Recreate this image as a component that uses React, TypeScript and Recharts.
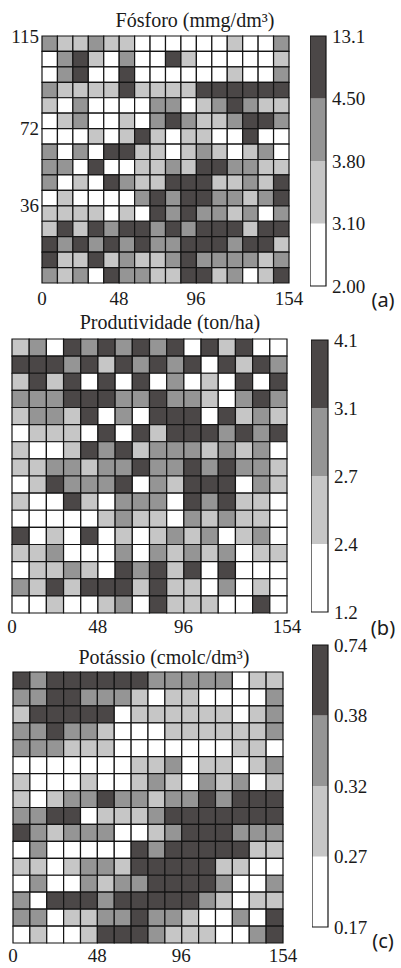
import React from 'react';
import { ScatterChart, Scatter, XAxis, YAxis, ReferenceArea } from 'recharts';

// class index per cell, top row of the field first (0 = lowest class ... 3 = highest)
const fosforoGrid = [
  [2, 1, 1, 2, 1, 1, 0, 0, 0, 0, 0, 0, 1, 0, 0, 2],
  [0, 2, 3, 1, 0, 2, 0, 0, 3, 1, 0, 0, 0, 0, 0, 1],
  [0, 2, 3, 0, 0, 3, 0, 0, 0, 0, 0, 0, 1, 0, 0, 2],
  [2, 1, 1, 1, 1, 3, 1, 1, 1, 1, 3, 3, 3, 3, 3, 3],
  [1, 0, 2, 0, 0, 0, 0, 2, 2, 0, 1, 2, 3, 2, 1, 1],
  [0, 1, 2, 0, 0, 1, 0, 2, 3, 2, 1, 1, 2, 3, 3, 2],
  [0, 0, 0, 1, 0, 1, 3, 1, 0, 1, 1, 0, 0, 3, 0, 0],
  [2, 0, 2, 0, 3, 3, 1, 1, 0, 1, 2, 1, 0, 1, 2, 0],
  [2, 2, 0, 3, 0, 0, 1, 1, 2, 1, 3, 3, 2, 2, 1, 1],
  [2, 0, 1, 0, 3, 2, 1, 1, 3, 3, 3, 1, 1, 2, 1, 3],
  [0, 1, 0, 0, 0, 0, 2, 3, 2, 3, 3, 2, 2, 1, 2, 3],
  [1, 1, 1, 1, 0, 1, 0, 3, 2, 3, 2, 2, 1, 2, 0, 2],
  [1, 3, 1, 3, 2, 3, 3, 2, 3, 2, 3, 3, 3, 1, 3, 3],
  [3, 2, 3, 2, 3, 2, 3, 2, 2, 3, 3, 3, 2, 3, 3, 1],
  [3, 1, 1, 3, 1, 2, 1, 1, 2, 3, 2, 2, 2, 2, 1, 2],
  [2, 1, 2, 0, 3, 2, 2, 1, 1, 3, 3, 1, 2, 0, 1, 3],
];

const produtividadeGrid = [
  [1, 2, 0, 3, 2, 3, 2, 3, 2, 3, 0, 3, 1, 3, 0, 0],
  [3, 3, 3, 2, 3, 1, 3, 2, 3, 2, 3, 0, 3, 1, 3, 2],
  [1, 3, 1, 3, 0, 3, 0, 3, 0, 2, 0, 1, 0, 3, 0, 3],
  [2, 2, 2, 3, 3, 3, 2, 2, 3, 2, 2, 1, 0, 2, 3, 2],
  [1, 2, 2, 1, 3, 0, 2, 0, 3, 3, 3, 0, 3, 1, 2, 1],
  [0, 1, 1, 1, 0, 3, 0, 3, 1, 3, 3, 3, 2, 3, 2, 3],
  [1, 0, 0, 1, 3, 2, 3, 1, 2, 2, 2, 1, 2, 1, 2, 0],
  [1, 1, 2, 2, 1, 2, 2, 3, 2, 2, 3, 2, 3, 2, 2, 1],
  [0, 1, 3, 2, 2, 2, 3, 0, 2, 1, 3, 3, 3, 0, 2, 1],
  [1, 0, 0, 3, 1, 0, 2, 2, 2, 0, 3, 2, 3, 1, 1, 0],
  [0, 0, 0, 0, 0, 1, 2, 1, 1, 0, 2, 1, 2, 1, 1, 0],
  [3, 0, 1, 0, 3, 0, 1, 0, 1, 2, 1, 2, 0, 1, 2, 0],
  [1, 1, 2, 0, 0, 0, 2, 0, 2, 1, 2, 1, 2, 0, 1, 1],
  [0, 1, 1, 2, 1, 0, 3, 2, 3, 1, 3, 0, 3, 0, 0, 0],
  [2, 1, 3, 1, 3, 3, 3, 1, 3, 1, 1, 0, 2, 0, 1, 0],
  [0, 0, 1, 0, 0, 1, 2, 0, 3, 1, 1, 1, 0, 0, 3, 0],
];

const potassioGrid = [
  [3, 2, 3, 3, 3, 3, 3, 3, 2, 2, 2, 2, 2, 0, 1, 1],
  [2, 2, 3, 3, 2, 2, 2, 1, 0, 1, 1, 0, 0, 0, 0, 2],
  [1, 3, 3, 3, 3, 3, 0, 1, 1, 1, 1, 1, 1, 0, 1, 2],
  [2, 2, 3, 2, 2, 1, 0, 0, 0, 1, 1, 1, 1, 1, 1, 2],
  [2, 2, 2, 1, 1, 1, 0, 0, 0, 0, 0, 0, 0, 1, 1, 0],
  [0, 0, 0, 0, 0, 0, 0, 1, 1, 2, 0, 1, 1, 0, 1, 2],
  [1, 0, 0, 0, 1, 0, 0, 1, 2, 1, 0, 2, 1, 2, 0, 1],
  [1, 0, 1, 2, 2, 3, 2, 2, 1, 2, 2, 3, 2, 3, 3, 3],
  [2, 2, 3, 3, 0, 1, 1, 1, 2, 3, 3, 3, 3, 3, 3, 3],
  [3, 2, 1, 2, 2, 2, 0, 0, 1, 2, 3, 3, 3, 2, 2, 2],
  [0, 2, 0, 0, 0, 0, 0, 3, 2, 3, 3, 3, 3, 3, 1, 1],
  [1, 1, 0, 1, 2, 2, 1, 3, 3, 3, 3, 3, 1, 1, 0, 0],
  [0, 2, 0, 0, 2, 1, 2, 2, 3, 3, 3, 3, 2, 0, 0, 2],
  [2, 0, 3, 3, 3, 2, 3, 3, 3, 3, 3, 2, 1, 0, 1, 1],
  [2, 2, 0, 1, 1, 2, 2, 3, 2, 2, 1, 0, 0, 2, 0, 3],
  [0, 1, 0, 0, 1, 3, 3, 3, 2, 1, 1, 1, 0, 0, 2, 3],
];

// field size in metres
const fieldWidth = 154;
const fieldHeight = 115;
const xTicks = [0, 48, 96, 154];
const fosforoYTicks = [36, 72, 115];

// class limits, bottom of the colour bar first
const fosforoBreaks = ['2.00', '3.10', '3.80', '4.50', '13.1'];
const produtividadeBreaks = ['1.2', '2.4', '2.7', '3.1', '4.1'];
const potassioBreaks = ['0.17', '0.27', '0.32', '0.38', '0.74'];

const classColors = ['#ffffff', '#c6c6c6', '#959595', '#4b4747'];

const serif = "'Liberation Serif', 'Times New Roman', serif";
const ink = '#1a1a1a';
const tickFont = 19;

type Box = { left: number; top: number; right: number; bottom: number };

const toCells = (grid: number[][]) => {
  const rows = grid.length;
  const cols = grid[0].length;
  const dx = fieldWidth / cols;
  const dy = fieldHeight / rows;
  const cells: { x1: number; x2: number; y1: number; y2: number; x: number; y: number; cls: number }[] = [];
  grid.forEach((row, r) =>
    row.forEach((cls, c) => {
      const y2 = fieldHeight - r * dy;
      cells.push({ x1: c * dx, x2: (c + 1) * dx, y1: y2 - dy, y2, x: c * dx + dx / 2, y: y2 - dy / 2, cls });
    })
  );
  return cells;
};

const FieldMap = ({ grid, box, yTicks, tickGap }: { grid: number[][]; box: Box; yTicks?: number[]; tickGap: number }) => {
  const cells = toCells(grid);
  const chartTop = box.top - 40;
  const width = 320;
  const height = box.bottom - chartTop + 40;
  const axisH = 30;
  const yAxisW = yTicks ? box.left : 0;
  return (
    <div style={{ position: 'absolute', left: 0, top: chartTop }}>
      <ScatterChart
        width={width}
        height={height}
        margin={{ top: box.top - chartTop, left: box.left - yAxisW, right: width - box.right, bottom: height - (box.bottom - chartTop) - axisH }}
      >
        <XAxis
          type="number"
          dataKey="x"
          domain={[0, fieldWidth]}
          ticks={xTicks}
          interval={0}
          allowDataOverflow
          axisLine={false}
          tickLine={false}
          tickSize={0}
          tickMargin={tickGap}
          height={axisH}
          tick={{ fill: ink, fontSize: tickFont, fontFamily: serif }}
        />
        <YAxis
          type="number"
          dataKey="y"
          domain={[0, fieldHeight]}
          ticks={yTicks}
          interval={0}
          allowDataOverflow
          hide={!yTicks}
          width={yAxisW}
          axisLine={false}
          tickLine={false}
          tickSize={0}
          tickMargin={3}
          tick={{ fill: ink, fontSize: tickFont, fontFamily: serif }}
        />
        {cells.map((c, i) => (
          <ReferenceArea
            key={i}
            x1={c.x1}
            x2={c.x2}
            y1={c.y1}
            y2={c.y2}
            fill={classColors[c.cls]}
            fillOpacity={1}
            stroke="#141414"
            strokeWidth={1.2}
            ifOverflow="visible"
          />
        ))}
        <Scatter data={cells} isAnimationActive={false} shape={() => <g />} />
      </ScatterChart>
    </div>
  );
};

const ColorBar = ({ breaks, box }: { breaks: string[]; box: Box }) => {
  const width = 90;
  const top = box.top - 14;
  const height = box.bottom - top + 14;
  const levels = classColors.map((color, i) => ({ x: 0.5, y: i + 0.5, color }));
  return (
    <div style={{ position: 'absolute', left: box.left, top }}>
      <ScatterChart width={width} height={height} margin={{ top: 14, bottom: 14, left: 0, right: 0 }}>
        <XAxis type="number" dataKey="x" domain={[0, 1]} hide />
        <YAxis
          type="number"
          dataKey="y"
          orientation="right"
          domain={[0, breaks.length - 1]}
          ticks={breaks.map((_, i) => i)}
          interval={0}
          tickFormatter={(v: number) => breaks[v]}
          width={width - (box.right - box.left)}
          axisLine={false}
          tickLine={false}
          tickSize={0}
          tickMargin={6}
          tick={{ fill: ink, fontSize: tickFont, fontFamily: serif, textAnchor: 'start' }}
        />
        {levels.map((l, i) => (
          <ReferenceArea key={i} x1={0} x2={1} y1={i} y2={i + 1} fill={l.color} fillOpacity={1} stroke="none" ifOverflow="visible" />
        ))}
        <ReferenceArea x1={0} x2={1} y1={0} y2={breaks.length - 1} fill="none" stroke="#141414" strokeWidth={1.2} ifOverflow="visible" />
        <Scatter data={levels} isAnimationActive={false} shape={() => <g />} />
      </ScatterChart>
    </div>
  );
};

const Caption = ({ text, x, y, size = 20, font = serif }: { text: string; x: number; y: number; size?: number; font?: string }) => (
  <div
    style={{
      position: 'absolute',
      left: x - 150,
      top: y - size * 0.6,
      width: 300,
      textAlign: 'center',
      fontFamily: font,
      fontSize: size,
      lineHeight: `${size * 1.2}px`,
      color: ink,
      whiteSpace: 'nowrap',
    }}
  >
    {text}
  </div>
);

const letterFont = "'Noto Sans', 'Open Sans', sans-serif";

export default function App() {
  return (
    <div style={{ position: 'absolute', left: 0, top: 0, width: 401, height: 968, background: '#fff', overflow: 'hidden', fontFamily: serif }}>
      <style>{`.recharts-text, .recharts-cartesian-axis-tick-value { font-family: 'Liberation Serif', 'Times New Roman', serif; }`}</style>
      <Caption text="Fósforo (mmg/dm³)" x={195} y={20} />
      <FieldMap grid={fosforoGrid} box={{ left: 42, top: 36, right: 289, bottom: 283 }} yTicks={fosforoYTicks} tickGap={9} />
      <ColorBar breaks={fosforoBreaks} box={{ left: 310, top: 36, right: 326, bottom: 286 }} />
      <Caption text="(a)" x={383} y={300} size={20} font={letterFont} />

      <Caption text="Produtividade (ton/ha)" x={170} y={322} />
      <FieldMap grid={produtividadeGrid} box={{ left: 12, top: 339, right: 287, bottom: 613 }} tickGap={7} />
      <ColorBar breaks={produtividadeBreaks} box={{ left: 311, top: 340, right: 328, bottom: 612 }} />
      <Caption text="(b)" x={383} y={628} size={20} font={letterFont} />

      <Caption text="Potássio (cmolc/dm³)" x={164} y={657} />
      <FieldMap grid={potassioGrid} box={{ left: 13, top: 672, right: 283, bottom: 943 }} tickGap={6} />
      <ColorBar breaks={potassioBreaks} box={{ left: 312, top: 645, right: 328, bottom: 927 }} />
      <Caption text="(c)" x={383} y={941} size={20} font={letterFont} />
    </div>
  );
}
